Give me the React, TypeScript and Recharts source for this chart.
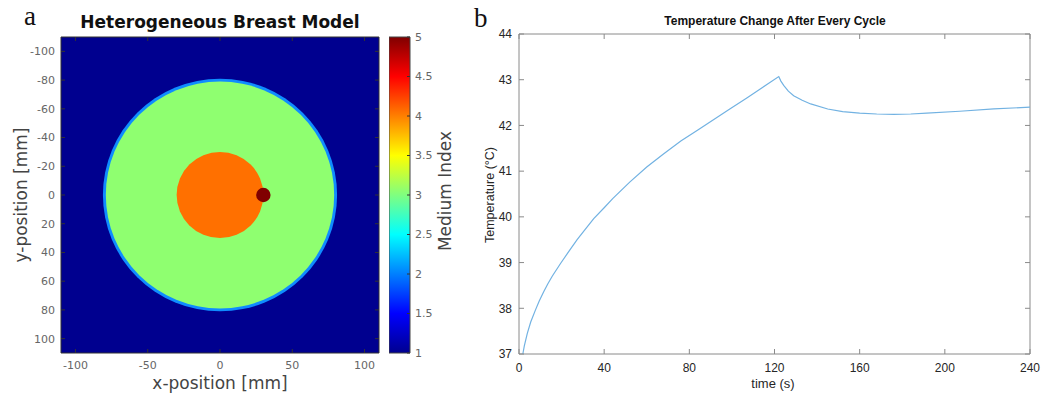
import {
  ScatterChart, Scatter, BarChart, Bar, ReferenceArea, LineChart, Line,
  XAxis, YAxis, CartesianGrid,
} from "recharts";

// panel a: geometry of the breast model (mm) and medium index of each region
const REGION_NAMES = ["skin", "fat", "gland", "tumour"];
const REGION_X = [0, 0, 0, 30];
const REGION_Y = [0, 0, 0, 0];
const REGION_R = [81, 79, 30, 5];
const REGION_INDEX = [2, 3, 4, 5];
const BACKGROUND_INDEX = 1;

const INDEX_COLORS: Record<number, string> = {
  1: "#00008f",
  2: "#0f8cff",
  3: "#8fff70",
  4: "#ff7000",
  5: "#800000",
};

const POS_X_TICKS = [-100, -50, 0, 50, 100];
const POS_Y_TICKS = [-100, -80, -60, -40, -20, 0, 20, 40, 60, 80, 100];
const INDEX_TICKS = [1, 1.5, 2, 2.5, 3, 3.5, 4, 4.5, 5];

// jet colormap stops for the colour bar (offset along 1..5)
const JET_OFFSETS = [0, 0.125, 0.375, 0.625, 0.875, 1];
const JET_COLORS = ["#00008f", "#0000ff", "#00ffff", "#ffff00", "#ff0000", "#800000"];

// panel b: temperature after every cycle
const TIME_S = [
  1.8, 2.5, 3.9, 5.5, 7.7, 9.5, 11.6, 13.5, 15.6, 19.5, 23.5, 27.3, 31, 35.1, 40, 44, 52, 60, 68, 76, 84, 91.5, 99, 107, 114, 122,
  123, 124.4, 126.5, 129, 133, 137, 145, 152, 160, 168, 176, 184, 191.5, 207, 223, 240,
];
const TEMP_C = [
  37.0, 37.18, 37.45, 37.7, 37.96, 38.16, 38.36, 38.53, 38.7, 38.98, 39.25, 39.5, 39.72, 39.96, 40.2, 40.4, 40.76, 41.09, 41.38, 41.66, 41.9, 42.13, 42.36, 42.6, 42.82, 43.07,
  42.97, 42.87, 42.75, 42.65, 42.55, 42.47, 42.36, 42.3, 42.27, 42.25, 42.24, 42.25, 42.27, 42.31, 42.36, 42.4,
];
const TIME_TICKS = [0, 40, 80, 120, 160, 200, 240];
const TEMP_TICKS = [37, 38, 39, 40, 41, 42, 43, 44];

const MAP_W = 318;
const MAP_H = 316;
const TEMP_W = 511;
const TEMP_H = 320;

const SANS = "'DejaVu Sans', sans-serif";
const ARIAL = "'Liberation Sans', Arial, sans-serif";
const SERIF = "'Liberation Serif', 'Times New Roman', serif";

const regions = REGION_NAMES.map((name, i) => ({
  name, x: REGION_X[i], y: REGION_Y[i], r: REGION_R[i], index: REGION_INDEX[i],
}));

const tempData = TIME_S.map((t, i) => ({ t, temp: TEMP_C[i] }));
const barData = [{ name: "index", range: [INDEX_TICKS[0], INDEX_TICKS[INDEX_TICKS.length - 1]] }];

function RegionShape(props: any) {
  const { cx, cy, payload } = props;
  if (cx == null || cy == null) return null;
  return (
    <ellipse
      cx={cx}
      cy={cy}
      rx={(payload.r * MAP_W) / 220}
      ry={(payload.r * MAP_H) / 220}
      fill={INDEX_COLORS[payload.index]}
    />
  );
}

// matlab style ticks: label outside, tick marks inward on both opposite edges
type TickOpts = { margin: number; span: number; len: number; stroke: string; font: any };

function bottomTick(o: TickOpts) {
  return (props: any) => {
    const { x, y, payload } = props;
    const ay = y - o.margin;
    return (
      <g>
        <line x1={x} x2={x} y1={ay} y2={ay - o.len} stroke={o.stroke} />
        <line x1={x} x2={x} y1={ay - o.span} y2={ay - o.span + o.len} stroke={o.stroke} />
        <text x={x} y={y} dy="0.71em" textAnchor="middle" {...o.font}>{payload.value}</text>
      </g>
    );
  };
}

function leftTick(o: TickOpts) {
  return (props: any) => {
    const { x, y, payload } = props;
    const ax = x + o.margin;
    return (
      <g>
        <line x1={ax} x2={ax + o.len} y1={y} y2={y} stroke={o.stroke} />
        <line x1={ax + o.span} x2={ax + o.span - o.len} y1={y} y2={y} stroke={o.stroke} />
        <text x={x} y={y} dy="0.355em" textAnchor="end" {...o.font}>{payload.value}</text>
      </g>
    );
  };
}

function rightTick(o: TickOpts) {
  return (props: any) => {
    const { x, y, payload } = props;
    const ax = x - o.margin;
    return (
      <g>
        <line x1={ax} x2={ax - o.len} y1={y} y2={y} stroke={o.stroke} />
        <text x={x} y={y} dy="0.355em" textAnchor="start" {...o.font}>{payload.value}</text>
      </g>
    );
  };
}

const mapFont = { fill: "#666", fontSize: 11, fontFamily: SANS };
const MapXTick = bottomTick({ margin: 8, span: MAP_H, len: 4, stroke: "#333", font: mapFont });
const MapYTick = leftTick({ margin: 6, span: MAP_W, len: 4, stroke: "#333", font: mapFont });
const BarTick = rightTick({ margin: 5, span: 0, len: 3, stroke: "#333", font: mapFont });

const tempFont = { fill: "#262626", fontSize: 12, fontFamily: ARIAL };
const TimeTick = bottomTick({ margin: 9, span: TEMP_H, len: 5, stroke: "#8a8a8a", font: tempFont });
const TempTick = leftTick({ margin: 7, span: TEMP_W, len: 5, stroke: "#8a8a8a", font: tempFont });

function BreastModel() {
  return (
    <ScatterChart width={460} height={398} margin={{ top: 37, right: 81, bottom: 0, left: 0 }}>
      <CartesianGrid horizontal={false} vertical={false} fill={INDEX_COLORS[BACKGROUND_INDEX]} fillOpacity={1} />
      <XAxis type="number" dataKey="x" domain={[-110, 110]} ticks={POS_X_TICKS} height={45}
        axisLine={false} tickLine={false} tickSize={0} tickMargin={8} tick={MapXTick} allowDataOverflow />
      <YAxis type="number" dataKey="y" domain={[-110, 110]} ticks={POS_Y_TICKS} reversed width={61}
        axisLine={false} tickLine={false} tickSize={0} tickMargin={6} tick={MapYTick} allowDataOverflow />
      <Scatter data={regions} shape={RegionShape} isAnimationActive={false} />
      <ReferenceArea x1={-110} x2={110} y1={-110} y2={110} fill="none" stroke="#333" strokeWidth={1} />
    </ScatterChart>
  );
}

function ColorBar() {
  return (
    <BarChart width={80} height={398} data={barData} barCategoryGap={0} margin={{ top: 37, right: 0, bottom: 45, left: 0 }}>
      <defs>
        <linearGradient id="jet" x1="0" y1="1" x2="0" y2="0">
          {JET_OFFSETS.map((o, i) => (
            <stop key={o} offset={o} stopColor={JET_COLORS[i]} />
          ))}
        </linearGradient>
      </defs>
      <XAxis dataKey="name" hide />
      <YAxis type="number" orientation="right" domain={[1, 5]} ticks={INDEX_TICKS} width={59}
        axisLine={false} tickLine={false} tickSize={0} tickMargin={5} tick={BarTick} />
      <Bar dataKey="range" fill="url(#jet)" stroke="#444" isAnimationActive={false} />
    </BarChart>
  );
}

function TemperatureChart() {
  return (
    <LineChart width={572} height={398} data={tempData} margin={{ top: 34, right: 13, bottom: 0, left: 0 }}>
      <XAxis type="number" dataKey="t" domain={[0, 240]} ticks={TIME_TICKS} height={44}
        axisLine={false} tickLine={false} tickSize={0} tickMargin={9} tick={TimeTick} />
      <YAxis type="number" domain={[37, 44]} ticks={TEMP_TICKS} width={48}
        axisLine={false} tickLine={false} tickSize={0} tickMargin={7} tick={TempTick} />
      <ReferenceArea x1={0} x2={240} y1={37} y2={44} fill="none" stroke="#8a8a8a" strokeWidth={1} />
      <Line type="linear" dataKey="temp" stroke="#72b2e2" strokeWidth={1.2} dot={false} isAnimationActive={false} />
    </LineChart>
  );
}

export default function App() {
  return (
    <div style={{ position: "absolute", left: 0, top: 0, width: 1043, height: 398, background: "#fff", overflow: "hidden" }}>
      <div style={{ position: "absolute", left: 0, top: 0 }}>
        <BreastModel />
      </div>
      <div style={{ position: "absolute", left: 389, top: 0 }}>
        <ColorBar />
      </div>
      <div style={{ position: "absolute", left: 471, top: 0 }}>
        <TemperatureChart />
      </div>
      <svg width={1043} height={398} style={{ position: "absolute", left: 0, top: 0, pointerEvents: "none" }}>
        <text x={24} y={25} fontSize={27} fontFamily={SERIF} fill="#111">a</text>
        <text x={220} y={28} textAnchor="middle" fontSize={17} fontWeight="bold" fontFamily={SANS} fill="#111">
          Heterogeneous Breast Model
        </text>
        <text transform="translate(27 195) rotate(-90)" textAnchor="middle" fontSize={17} fontFamily={SANS} fill="#444">
          y-position [mm]
        </text>
        <text x={220} y={389} textAnchor="middle" fontSize={17} fontFamily={SANS} fill="#444">
          x-position [mm]
        </text>
        <text transform="translate(451 191) rotate(-90)" textAnchor="middle" fontSize={17} fontFamily={SANS} fill="#444">
          Medium Index
        </text>
        <text x={474} y={27} fontSize={27} fontFamily={SERIF} fill="#111">b</text>
        <text x={775} y={25} textAnchor="middle" fontSize={12} fontWeight="bold" fontFamily={ARIAL} fill="#111">
          Temperature Change After Every Cycle
        </text>
        <text transform="translate(494 195) rotate(-90)" textAnchor="middle" fontSize={12.5} fontFamily={ARIAL} fill="#262626">
          Temperature (°C)
        </text>
        <text x={773} y={388} textAnchor="middle" fontSize={13} fontFamily={ARIAL} fill="#262626">
          time (s)
        </text>
      </svg>
    </div>
  );
}
